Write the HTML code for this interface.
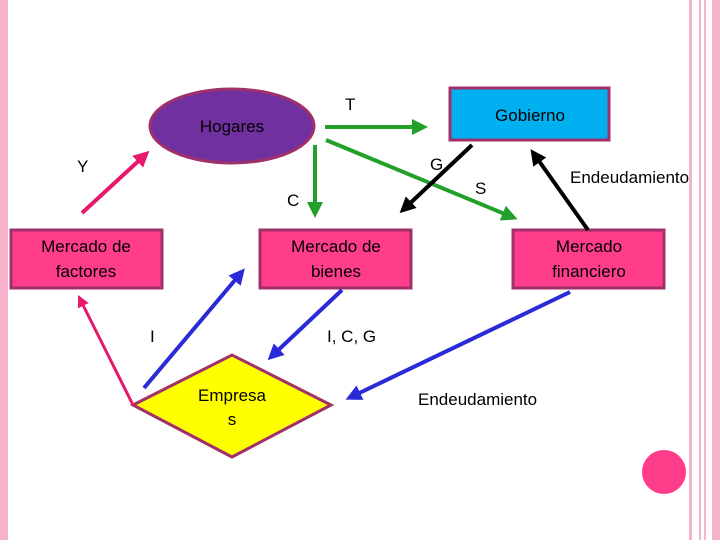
<!DOCTYPE html>
<html><head><style>
body{margin:0;width:720px;height:540px;overflow:hidden;background:#fff;font-family:"Liberation Sans",sans-serif}
</style></head><body>
<svg width="720" height="540" xmlns="http://www.w3.org/2000/svg" font-family="Liberation Sans, sans-serif" font-size="17">
<defs>
<marker id="g" markerWidth="4" markerHeight="4" refX="2.5" refY="2" orient="auto"><path d="M0,0 L4,2 L0,4 Z" fill="#22a02a"/></marker>
<marker id="k" markerWidth="4" markerHeight="4" refX="2.5" refY="2" orient="auto"><path d="M0,0 L4,2 L0,4 Z" fill="#000"/></marker>
<marker id="p" markerWidth="4" markerHeight="4" refX="2.5" refY="2" orient="auto"><path d="M0,0 L4,2 L0,4 Z" fill="#e8186c"/></marker>
<marker id="b" markerWidth="4" markerHeight="4" refX="2.5" refY="2" orient="auto"><path d="M0,0 L4,2 L0,4 Z" fill="#2a2ad8"/></marker>
</defs>
<rect x="0" y="0" width="8" height="540" fill="#f7b3cc"/>
<rect x="689" y="0" width="3" height="540" fill="#f7b3cc"/>
<rect x="699" y="0" width="2" height="540" fill="#f7b3cc"/>
<rect x="704" y="0" width="2" height="540" fill="#f7b3cc"/>
<rect x="712" y="0" width="8" height="540" fill="#f7b3cc"/>
<ellipse cx="232" cy="126" rx="82" ry="37" fill="#7030a0" stroke="#a0306a" stroke-width="3"/>
<text x="232" y="132" text-anchor="middle">Hogares</text>
<rect x="450" y="88" width="159" height="52" fill="#00b0f0" stroke="#a0306a" stroke-width="3"/>
<text x="530" y="121" text-anchor="middle">Gobierno</text>
<g fill="#ff3d8b" stroke="#a0306a" stroke-width="3">
<rect x="11" y="230" width="151" height="58"/>
<rect x="260" y="230" width="151" height="58"/>
<rect x="513" y="230" width="151" height="58"/>
<polygon points="133,405 232,355 331,405 232,457" fill="#ffff00"/>
</g>
<text x="86" y="252" text-anchor="middle">Mercado de</text><text x="86" y="277" text-anchor="middle">factores</text>
<text x="336" y="252" text-anchor="middle">Mercado de</text><text x="336" y="277" text-anchor="middle">bienes</text>
<text x="589" y="252" text-anchor="middle">Mercado</text><text x="589" y="277" text-anchor="middle">financiero</text>
<text x="232" y="401" text-anchor="middle">Empresa</text><text x="232" y="425" text-anchor="middle">s</text>
<ellipse cx="664" cy="472" rx="22" ry="22" fill="#ff3d8b"/>
<g stroke-width="4" fill="none">
<line x1="325" y1="127" x2="422" y2="127" stroke="#22a02a" marker-end="url(#g)"/>
<line x1="315" y1="145" x2="315" y2="212" stroke="#22a02a" marker-end="url(#g)"/>
<line x1="326" y1="140" x2="512" y2="217" stroke="#22a02a" marker-end="url(#g)"/>
<line x1="472" y1="145" x2="404" y2="209" stroke="#000" marker-end="url(#k)"/>
<line x1="588" y1="230" x2="534" y2="154" stroke="#000" marker-end="url(#k)"/>
<line x1="82" y1="213" x2="145" y2="155" stroke="#e8186c" marker-end="url(#p)"/>
<line x1="133" y1="405" x2="80" y2="299" stroke="#e8186c" stroke-width="3" marker-end="url(#p)"/>
<line x1="144" y1="388" x2="241" y2="273" stroke="#2a2ad8" marker-end="url(#b)"/>
<line x1="342" y1="290" x2="272" y2="356" stroke="#2a2ad8" marker-end="url(#b)"/>
<line x1="570" y1="292" x2="351" y2="397" stroke="#2a2ad8" marker-end="url(#b)"/>
</g>
<text x="345" y="110">T</text>
<text x="77" y="172">Y</text>
<text x="430" y="170">G</text>
<text x="475" y="194">S</text>
<text x="570" y="183">Endeudamiento</text>
<text x="287" y="206">C</text>
<text x="150" y="342">I</text>
<text x="327" y="342">I, C, G</text>
<text x="418" y="405">Endeudamiento</text>
</svg>
</body></html>
